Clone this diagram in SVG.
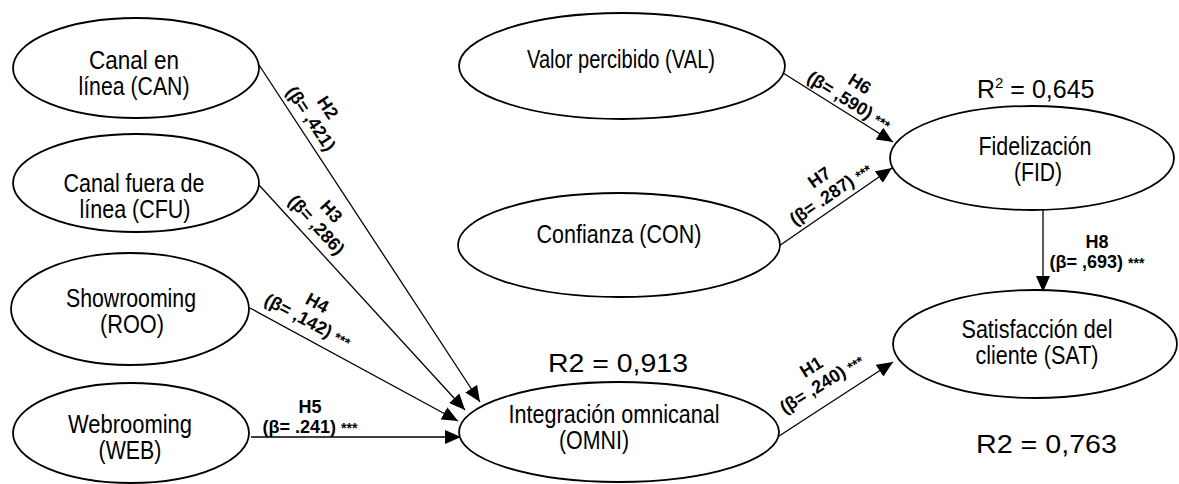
<svg xmlns="http://www.w3.org/2000/svg" width="1179" height="484" viewBox="0 0 1179 484">
<style>
.bg{fill:#fff}
.node ellipse{fill:#fff;stroke:#000;stroke-width:1.8}
.nt{font-family:"Liberation Sans Narrow","Liberation Sans",Arial,sans-serif;font-size:25px;fill:#000;text-anchor:middle}
.conn line{stroke:#000;stroke-width:1.3;marker-end:url(#arr)}
.lb{font-family:"Liberation Sans",Arial,sans-serif;font-size:18px;font-weight:bold;fill:#000;text-anchor:middle}
.st{font-size:14px}
.r2{font-family:"Liberation Sans",Arial,sans-serif;font-size:25px;fill:#000}
</style>
<defs>
<marker id="arr" markerUnits="userSpaceOnUse" markerWidth="16" markerHeight="14" refX="16" refY="7" orient="auto">
<path d="M0,0 L16,7 L0,14 z" fill="#000"/>
</marker>
</defs>
<rect class="bg" x="0" y="0" width="1179" height="484"/>
<g id="connectors" class="conn">
<line x1="259" y1="65" x2="480" y2="402"/>
<line x1="259" y1="185" x2="465" y2="410"/>
<line x1="250" y1="308" x2="458" y2="421"/>
<line x1="251" y1="437" x2="461" y2="437"/>
<line x1="776" y1="438" x2="893" y2="362"/>
<line x1="783" y1="73" x2="893" y2="142"/>
<line x1="779" y1="246" x2="892" y2="168"/>
<line x1="1043" y1="210" x2="1043" y2="292"/>
</g>
<g id="labels">
<g transform="translate(306,122) rotate(56.3)"><text class="lb" x="0" y="-20">H2</text><text class="lb" x="0" y="0">(β= ,421)</text></g>
<g transform="translate(312,229) rotate(47.7)"><text class="lb" x="0" y="-20">H3</text><text class="lb" x="0" y="0">(β= ,286)</text></g>
<g transform="translate(305,326) rotate(28)"><text class="lb" x="0" y="-20">H4</text><text class="lb" x="0" y="0">(β= ,142) <tspan class="st">***</tspan></text></g>
<g transform="translate(310,433)"><text class="lb" x="0" y="-20">H5</text><text class="lb" x="0" y="0">(β= .241) <tspan class="st">***</tspan></text></g>
<g transform="translate(846,106) rotate(32)"><text class="lb" x="0" y="-20">H6</text><text class="lb" x="0" y="0">(β= ,590) <tspan class="st">***</tspan></text></g>
<g transform="translate(834,199) rotate(-34.6)"><text class="lb" x="0" y="-20">H7</text><text class="lb" x="0" y="0">(β= .287) <tspan class="st">***</tspan></text></g>
<g transform="translate(825,389) rotate(-32)"><text class="lb" x="0" y="-20">H1</text><text class="lb" x="0" y="0">(β= ,240) <tspan class="st">***</tspan></text></g>
<g transform="translate(1097,268)"><text class="lb" x="0" y="-20">H8</text><text class="lb" x="0" y="0">(β= ,693) <tspan class="st">***</tspan></text></g>
<text class="r2" x="977" y="98">R<tspan font-size="15" dy="-10">2</tspan><tspan dy="10"> = 0,645</tspan></text>
<text class="r2" x="548" y="372" textLength="140" lengthAdjust="spacingAndGlyphs">R2 = 0,913</text>
<text class="r2" x="976" y="453" textLength="141" lengthAdjust="spacingAndGlyphs">R2 = 0,763</text>
</g>
<g id="CAN" class="node"><ellipse cx="136" cy="68" rx="123" ry="50"/><text class="nt" x="134" y="69" textLength="90" lengthAdjust="spacingAndGlyphs">Canal en</text><text class="nt" x="134" y="95" textLength="111" lengthAdjust="spacingAndGlyphs">línea (CAN)</text></g>
<g id="CFU" class="node"><ellipse cx="136" cy="183" rx="123" ry="49"/><text class="nt" x="134" y="192" textLength="141" lengthAdjust="spacingAndGlyphs">Canal fuera de</text><text class="nt" x="135" y="218" textLength="111" lengthAdjust="spacingAndGlyphs">línea (CFU)</text></g>
<g id="ROO" class="node"><ellipse cx="130" cy="309" rx="119" ry="56"/><text class="nt" x="131" y="307" textLength="130" lengthAdjust="spacingAndGlyphs">Showrooming</text><text class="nt" x="132" y="333" textLength="64" lengthAdjust="spacingAndGlyphs">(ROO)</text></g>
<g id="WEB" class="node"><ellipse cx="131" cy="433" rx="118" ry="50"/><text class="nt" x="130" y="433" textLength="124" lengthAdjust="spacingAndGlyphs">Webrooming</text><text class="nt" x="130" y="459" textLength="63" lengthAdjust="spacingAndGlyphs">(WEB)</text></g>
<g id="VAL" class="node"><ellipse cx="622" cy="66" rx="163" ry="53"/><text class="nt" x="621" y="68" font-size="24" textLength="188" lengthAdjust="spacingAndGlyphs">Valor percibido (VAL)</text></g>
<g id="CON" class="node"><ellipse cx="619" cy="245" rx="161" ry="52"/><text class="nt" x="619" y="243" textLength="165" lengthAdjust="spacingAndGlyphs">Confianza (CON)</text></g>
<g id="FID" class="node"><ellipse cx="1032" cy="158" rx="142" ry="52"/><text class="nt" x="1035" y="155" textLength="113" lengthAdjust="spacingAndGlyphs">Fidelización</text><text class="nt" x="1038" y="181" textLength="48" lengthAdjust="spacingAndGlyphs">(FID)</text></g>
<g id="SAT" class="node"><ellipse cx="1035" cy="344" rx="142" ry="54"/><text class="nt" x="1037" y="338" textLength="151" lengthAdjust="spacingAndGlyphs">Satisfacción del</text><text class="nt" x="1037" y="364" textLength="123" lengthAdjust="spacingAndGlyphs">cliente (SAT)</text></g>
<g id="OMNI" class="node"><ellipse cx="619" cy="432" rx="160" ry="50"/><text class="nt" x="614" y="423" textLength="211" lengthAdjust="spacingAndGlyphs">Integración omnicanal</text><text class="nt" x="594" y="449" textLength="70" lengthAdjust="spacingAndGlyphs">(OMNI)</text></g>
</svg>
